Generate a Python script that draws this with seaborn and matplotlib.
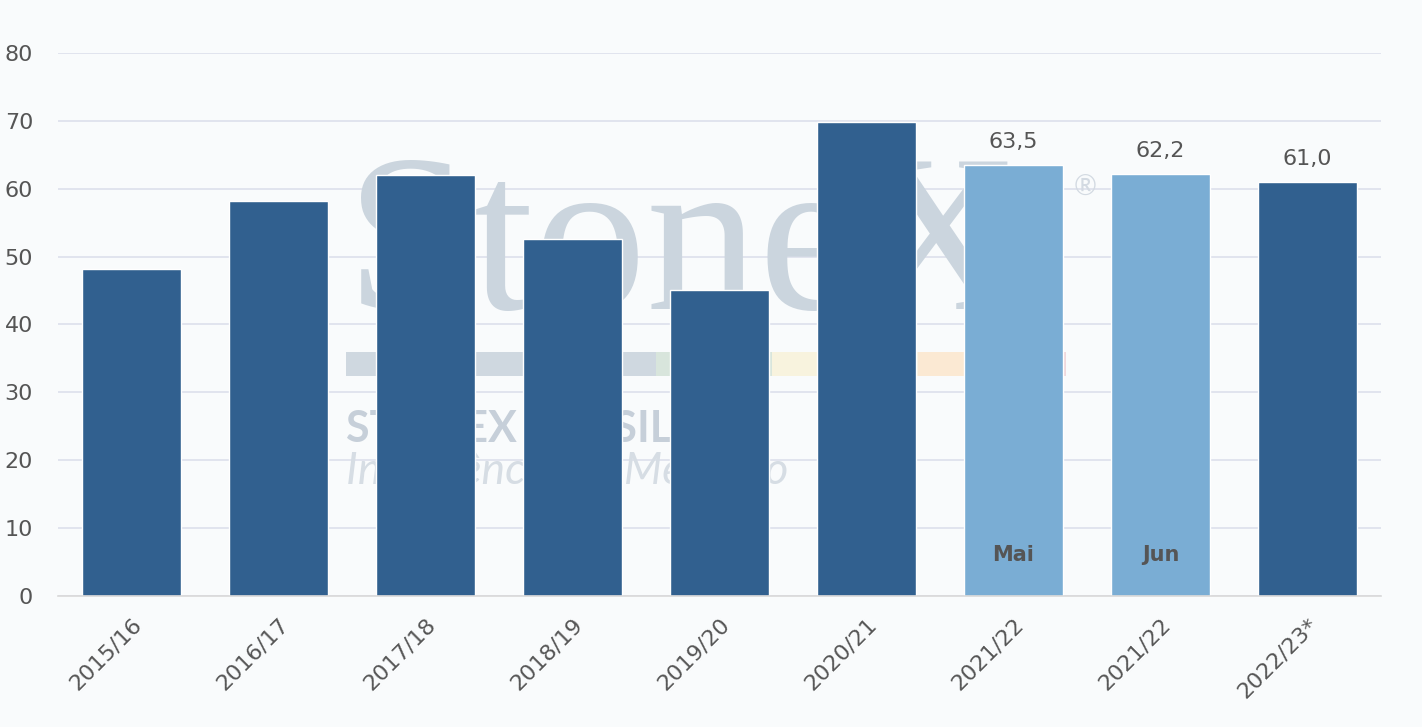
import matplotlib
matplotlib.use("Agg")
import matplotlib.pyplot as plt
import matplotlib.ticker as mticker
from matplotlib.patches import Rectangle
import pandas as pd
import seaborn as sns

# Data
seasons = ["2015/16", "2016/17", "2017/18", "2018/19", "2019/20",
           "2020/21", "2021/22", "2021/22", "2022/23*"]
values = [48.2, 58.2, 62.0, 52.6, 45.1, 69.8, 63.5, 62.2, 61.0]
kind = ["hist", "hist", "hist", "hist", "hist", "hist", "est", "est", "proj"]
labelled = [None, None, None, None, None, None, "63,5", "62,2", "61,0"]
month_tags = [None, None, None, None, None, None, "Mai", "Jun", None]

DARK = "#31608f"
LIGHT = "#7aadd4"
TEXT = "#555555"
BG = "#f9fbfc"

df = pd.DataFrame({"pos": [str(i) for i in range(len(seasons))],
                   "value": values, "kind": kind})

sns.set_style("white")
plt.rcParams["font.family"] = ["DejaVu Sans"]

fig = plt.figure(figsize=(14.22, 7.27), dpi=100, facecolor=BG)
ax = fig.add_axes([0.0408, 0.1802, 0.9304, 0.7469])
ax.set_facecolor(BG)

# faint watermark behind bars
wm = dict(transform=ax.transAxes, zorder=1)
ax.text(0.218, 0.528, "StoneX", fontsize=162, family="Liberation Serif",
        color="#cbd5de", ha="left", va="baseline", **wm)
ax.text(0.768, 0.752, "®", fontsize=20, family="Lato", color="#d3dae2",
        ha="left", va="center", **wm)
for x0, x1, c in [(0.218, 0.452, "#cfd8e0"), (0.452, 0.540, "#d8e5dc"),
                  (0.540, 0.650, "#f8f3de"), (0.650, 0.760, "#fbe9d3"),
                  (0.760, 0.762, "#f0d8dc")]:
    ax.add_patch(Rectangle((x0, 0.405), x1 - x0, 0.045, facecolor=c,
                           edgecolor="none", **wm))
ax.text(0.218, 0.308, "STONEX BRASIL", fontsize=31, fontweight="bold",
        family="Lato", color="#c6cfd9", ha="left", va="center", **wm)
ax.text(0.218, 0.230, "Inteligência de Mercado", fontsize=32, style="italic",
        family="Lato", color="#d6dde4", ha="left", va="center", **wm)

sns.barplot(data=df, x="pos", y="value", hue="kind",
            palette={"hist": DARK, "est": LIGHT, "proj": DARK},
            width=0.67, dodge=False, legend=False, saturation=1,
            ax=ax, zorder=3)

ax.set_xlim(-0.5, len(seasons) - 0.5)
ax.set_ylim(0, 80)
ax.yaxis.set_major_locator(mticker.MultipleLocator(10))
ax.grid(axis="y", color="#dde0ec", linewidth=1.2, zorder=0)
ax.set_axisbelow(True)

for s in ["left", "top", "right"]:
    ax.spines[s].set_visible(False)
ax.spines["bottom"].set_color("#d9d9d9")
ax.spines["bottom"].set_linewidth(1.2)
ax.spines["bottom"].set_zorder(4)

ax.set_xticks(range(len(seasons)))
ax.set_xticklabels(seasons, rotation=45, ha="right", rotation_mode="anchor",
                   fontsize=16, color=TEXT)
ax.set_xticks([i - 0.5 for i in range(len(seasons) + 1)], minor=True)
ax.tick_params(axis="x", which="major", length=5, color="#d9d9d9", width=1.2, pad=8)
ax.tick_params(axis="x", which="minor", length=10, color="#d9d9d9", width=1.2)
ax.tick_params(axis="y", length=0, labelsize=16, labelcolor=TEXT, pad=18)
ax.set_xlabel("")
ax.set_ylabel("")

for i, (v, lab, tag) in enumerate(zip(values, labelled, month_tags)):
    if lab:
        ax.annotate(lab, (i, v), xytext=(0, 9), textcoords="offset points",
                    ha="center", va="bottom", fontsize=16, color=TEXT, zorder=5)
    if tag:
        ax.text(i, 6.0, tag, ha="center", va="center", fontsize=15,
                fontweight="bold", color=TEXT, zorder=5)

fig.savefig("out.png", dpi=100, facecolor=BG)
